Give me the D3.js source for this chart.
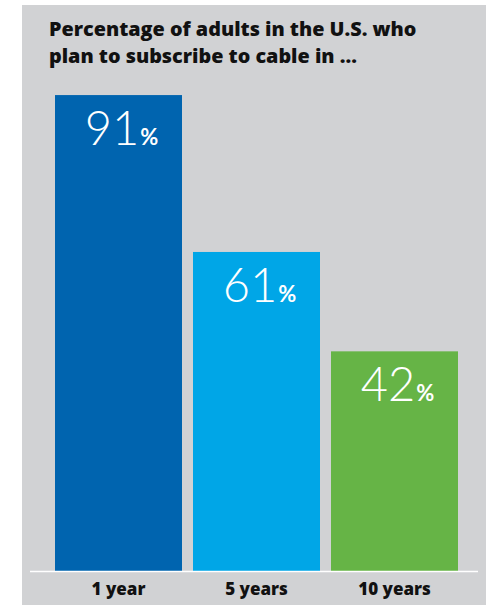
<!DOCTYPE html>
<html>
<head>
<meta charset="utf-8">
<script src="https://cdn.jsdelivr.net/npm/d3@7.9.0/dist/d3.min.js"></script>
<style>
  html, body { margin: 0; padding: 0; background: #fff; }
  svg { display: block; }
</style>
</head>
<body>
<svg id="chart" width="489" height="605"></svg>
<script>
const categories = ['1 year', '5 years', '10 years'];
const values = [91, 61, 42];
const colors = ['#0064AF', '#00A6E7', '#66B446'];
const titleLines = ['Percentage of adults in the U.S. who', 'plan to subscribe to cable in ...'];

const svg = d3.select('#chart');

// grey panel
svg.append('rect')
  .attr('x', 22).attr('y', 5)
  .attr('width', 464).attr('height', 600)
  .attr('fill', '#D1D2D4');

// title
svg.append('text')
  .attr('x', 49).attr('y', 36)
  .attr('font-family', '"Open Sans", sans-serif')
  .attr('font-weight', 800)
  .attr('font-size', 19.8)
  .attr('fill', '#111')
  .selectAll('tspan')
  .data(titleLines)
  .join('tspan')
  .attr('x', 49)
  .attr('dy', (d, i) => i === 0 ? 0 : 27)
  .text(d => d);

const x = d3.scaleBand()
  .domain(categories)
  .range([55, 458])
  .paddingInner(11 / 138)
  .paddingOuter(0);

const y = d3.scaleLinear()
  .domain([0, 100])
  .range([571, 48]);

const data = categories.map((c, i) => ({ cat: c, value: values[i], color: colors[i] }));

svg.append('g')
  .selectAll('rect')
  .data(data)
  .join('rect')
  .attr('x', d => x(d.cat))
  .attr('y', d => y(d.value))
  .attr('width', x.bandwidth())
  .attr('height', d => y(0) - y(d.value))
  .attr('fill', d => d.color);

// value labels
const lab = svg.append('g')
  .selectAll('text')
  .data(data)
  .join('text')
  .attr('x', d => x(d.cat) + x.bandwidth() / 2 + 3)
  .attr('y', d => y(d.value) + 50)
  .attr('text-anchor', 'middle')
  .attr('fill', '#fff')
  .attr('font-family', 'Lato, sans-serif');

lab.append('tspan')
  .attr('font-size', 47)
  .attr('font-weight', 300)
  .text(d => d.value);

lab.append('tspan')
  .attr('font-size', 22)
  .attr('font-weight', 700)
  .attr('dx', 1)
  .text('%');

// baseline
svg.append('line')
  .attr('x1', 30).attr('x2', 478)
  .attr('y1', y(0) + 0.5).attr('y2', y(0) + 0.5)
  .attr('stroke', '#fff')
  .attr('stroke-width', 1.5);

// category axis
const xAxis = d3.axisBottom(x).tickSize(0).tickPadding(0);
const ax = svg.append('g')
  .attr('transform', `translate(0,${y(0)})`)
  .call(xAxis);
ax.select('.domain').remove();
ax.selectAll('text')
  .attr('dy', null)
  .attr('y', 24)
  .attr('font-family', '"Open Sans", sans-serif')
  .attr('font-weight', 800)
  .attr('font-size', 17)
  .attr('fill', '#111');
</script>
</body>
</html>
